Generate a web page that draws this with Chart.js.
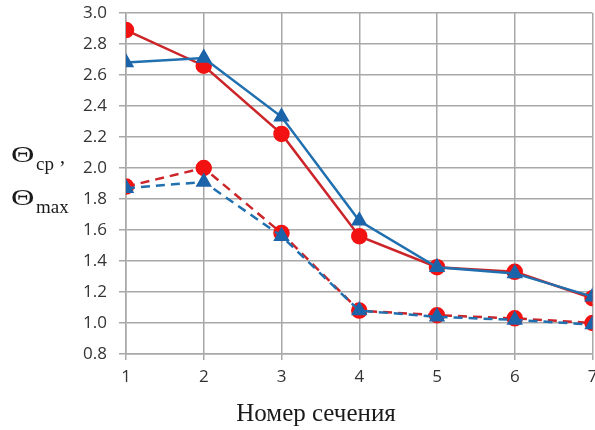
<!DOCTYPE html>
<html>
<head>
<meta charset="utf-8">
<script src="https://cdn.jsdelivr.net/npm/chart.js@4/dist/chart.umd.min.js"></script>
<style>
html,body{margin:0;padding:0;background:#fff;overflow:hidden;width:595px;height:430px;}
#wrap{position:absolute;left:0;top:0;width:602px;height:430px;}
</style>
</head>
<body>
<div id="wrap"><canvas id="c" width="602" height="430"></canvas></div>
<script>
const sections = [1, 2, 3, 4, 5, 6, 7];
const yTicks = [0.8, 1.0, 1.2, 1.4, 1.6, 1.8, 2.0, 2.2, 2.4, 2.6, 2.8, 3.0];
const redSolid  = [2.89, 2.66, 2.22, 1.56, 1.36, 1.33, 1.16];
const blueSolid = [2.68, 2.71, 2.33, 1.66, 1.36, 1.32, 1.17];
const redDashed  = [1.88, 2.00, 1.58, 1.08, 1.05, 1.03, 1.00];
const blueDashed = [1.87, 1.91, 1.56, 1.08, 1.04, 1.02, 0.99];
const xTitle = 'Номер сечения';

const RED_LINE = '#cc2529', RED_PT = '#f21212';
const BLUE_LINE = '#2070b0', BLUE_PT = '#1c64aa';

function pts(arr){ return sections.map((s,i)=>({x:s,y:arr[i]})); }

function theta(ctx, x, y){
  ctx.save();
  ctx.translate(x, y);
  ctx.scale(1.3, 0.95);
  ctx.font = '25px "Liberation Serif", "DejaVu Serif", serif';
  ctx.fillText('Θ', 0, 0);
  ctx.restore();
}

const titlePlugin = {
  id:'titles',
  afterDraw(chart){
    const ctx = chart.ctx;
    ctx.save();
    ctx.fillStyle = '#1a1a1a';
    ctx.textBaseline = 'alphabetic';
    ctx.textAlign = 'left';
    theta(ctx, 11, 162);
    ctx.font = '19px "Liberation Serif", "DejaVu Serif", serif';
    ctx.fillText('cp', 36, 170);
    ctx.font = '20px "Liberation Serif", "DejaVu Serif", serif';
    ctx.fillText(',', 60, 163);
    theta(ctx, 11, 205);
    ctx.font = '19px "Liberation Serif", "DejaVu Serif", serif';
    ctx.fillText('max', 36, 213);
    ctx.textAlign = 'center';
    ctx.font = '25px "Liberation Serif", "DejaVu Serif", serif';
    ctx.fillText(xTitle, 316, 421);
    ctx.restore();
  }
};

new Chart(document.getElementById('c'), {
  type:'line',
  data:{
    datasets:[
      {label:'blueSolid', data:pts(blueSolid), borderColor:BLUE_LINE, backgroundColor:BLUE_PT, pointBackgroundColor:BLUE_PT, pointBorderColor:BLUE_PT, pointStyle:'triangle', pointRadius:7, borderWidth:2.5, order:0},
      {label:'blueDashed', data:pts(blueDashed), borderColor:BLUE_LINE, backgroundColor:BLUE_PT, pointBackgroundColor:BLUE_PT, pointBorderColor:BLUE_PT, pointStyle:'triangle', pointRadius:7, borderWidth:2.5, borderDash:[9,6], order:1},
      {label:'redSolid', data:pts(redSolid), borderColor:RED_LINE, backgroundColor:RED_PT, pointBackgroundColor:RED_PT, pointBorderColor:RED_PT, pointStyle:'circle', pointRadius:7, borderWidth:2.5, order:2},
      {label:'redDashed', data:pts(redDashed), borderColor:RED_LINE, backgroundColor:RED_PT, pointBackgroundColor:RED_PT, pointBorderColor:RED_PT, pointStyle:'circle', pointRadius:7, borderWidth:2.5, borderDash:[9,6], order:3}
    ]
  },
  options:{
    responsive:false,
    animation:false,
    layout:{padding:{top:13,left:0,right:3,bottom:0}},
    plugins:{legend:{display:false},tooltip:{enabled:false}},
    elements:{line:{tension:0}},
    scales:{
      x:{
        type:'linear', min:1, max:7,
        afterBuildTicks(scale){ scale.ticks = sections.map(v=>({value:v})); },
        afterFit(scale){ scale.height = 76; scale.paddingLeft = 0; scale.paddingRight = 0; },
        grid:{color:'#a8a8a8', lineWidth:1.5, tickLength:6, drawTicks:true},
        border:{color:'#a8a8a8', width:1.5},
        ticks:{color:'#333', font:{family:'"Open Sans", sans-serif', size:17}, padding:7, maxRotation:0}
      },
      y:{
        type:'linear', min:0.8, max:3.0,
        afterBuildTicks(scale){ scale.ticks = yTicks.map(v=>({value:v})); },
        afterFit(scale){ scale.width = 126; scale.paddingTop = 0; scale.paddingBottom = 0; },
        grid:{color:'#a8a8a8', lineWidth:1.5, tickLength:7},
        border:{color:'#a8a8a8', width:1.5},
        ticks:{color:'#333', font:{family:'"Open Sans", sans-serif', size:17}, padding:12, callback:v=>Number(v).toFixed(1)}
      }
    }
  },
  plugins:[titlePlugin]
});
</script>
</body>
</html>
